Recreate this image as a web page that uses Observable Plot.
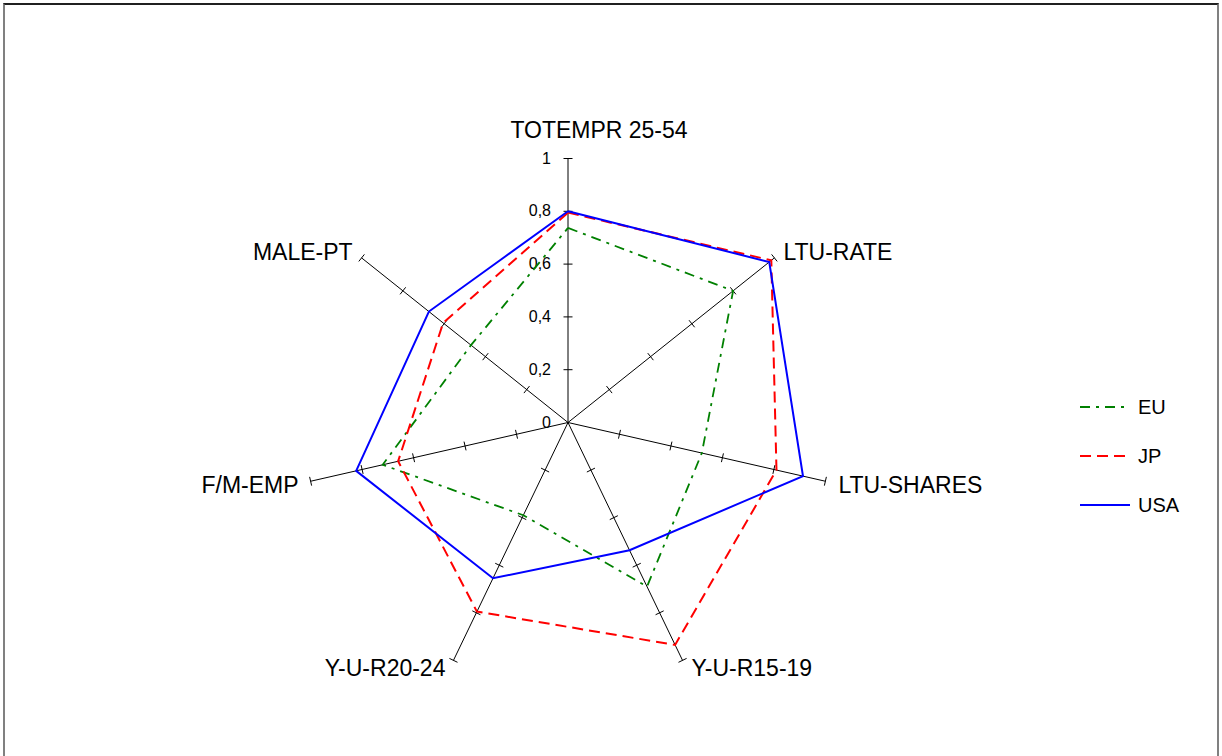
<!DOCTYPE html>
<html>
<head>
<meta charset="utf-8">
<script src="https://cdn.jsdelivr.net/npm/d3@7"></script>
<script src="https://cdn.jsdelivr.net/npm/@observablehq/plot@0.6"></script>
<style>
  html, body { margin: 0; padding: 0; background: #fff; overflow: hidden; }
  #wrap { position: relative; width: 1222px; height: 756px; overflow: hidden; font-family: "Liberation Sans", Arial, sans-serif; }
  #frame { position: absolute; left: 3px; top: 3px; width: 1216px; height: 800px; border: 2px solid #808080; border-top-color: #202020; box-sizing: border-box; pointer-events: none; }
  #legend { position: absolute; left: 1080px; top: 390px; }
  .item { position: absolute; left: 0; height: 34px; display: flex; align-items: center; white-space: nowrap; font-size: 20px; color: #000; }
  .item svg { margin-right: 6px; }
</style>
</head>
<body>
<div id="wrap"><div id="chart"></div><div id="legend"></div><div id="frame"></div></div>
<script>
// ---- data ----
const categories = ["TOTEMPR 25-54", "LTU-RATE", "LTU-SHARES", "Y-U-R15-19", "Y-U-R20-24", "F/M-EMP", "MALE-PT"];
const seriesNames = ["EU", "JP", "USA"];
const EU  = [0.737, 0.80, 0.52, 0.69, 0.39, 0.72, 0.47];
const JP  = [0.795, 0.985, 0.81, 0.935, 0.795, 0.66, 0.605];
const USA = [0.80, 0.975, 0.913, 0.537, 0.655, 0.823, 0.674];
const tickValues = [0, 0.2, 0.4, 0.6, 0.8, 1];
const tickLabels = ["0", "0,2", "0,4", "0,6", "0,8", "1"];

// ---- layout / styles ----
const W = 1222, H = 756, cx = 567.5, cy = 422, R = 264;
const styles = {
  EU:  {stroke: "#008000", strokeWidth: 1.8, dash: "10,6,3,6"},
  JP:  {stroke: "#ff0000", strokeWidth: 2, dash: "11,6"},
  USA: {stroke: "#0000ff", strokeWidth: 2, dash: null}
};
const labelLayout = [
  {anchor: "middle", dx: 31, dy: -28},
  {anchor: "start", dx: 9, dy: -5},
  {anchor: "start", dx: 13, dy: 4},
  {anchor: "start", dx: 9, dy: 8},
  {anchor: "end", dx: -8, dy: 8},
  {anchor: "end", dx: -12, dy: 4},
  {anchor: "end", dx: -9, dy: -5}
];
const n = categories.length;
const ang = i => i * 2 * Math.PI / n;
const px = (i, r) => Math.sin(ang(i)) * r;
const py = (i, r) => Math.cos(ang(i)) * r;
const tickHalf = 4.5 / R;

const values = {EU, JP, USA};
const seriesData = seriesNames.map(s => {
  const pts = categories.map((c, i) => ({s, i, x: px(i, values[s][i]), y: py(i, values[s][i])}));
  return pts.concat([pts[0]]);
});

const axes = categories.map((c, i) => ({i, x1: 0, y1: 0, x2: px(i, 1), y2: py(i, 1)}));
const ticks = [];
categories.forEach((c, i) => {
  tickValues.filter(v => v > 0).forEach(v => {
    const a = ang(i);
    const bx = px(i, v), by = py(i, v);
    // perpendicular direction
    const ux = Math.cos(a), uy = -Math.sin(a);
    ticks.push({x1: bx - ux * tickHalf, y1: by - uy * tickHalf, x2: bx + ux * tickHalf, y2: by + uy * tickHalf});
  });
});
const tickLabelData = tickValues.map((v, k) => ({x: 0, y: v, label: tickLabels[k]}));

const marks = [
  Plot.link(axes, {x1: "x1", y1: "y1", x2: "x2", y2: "y2", stroke: "#000", strokeWidth: 1}),
  Plot.link(ticks, {x1: "x1", y1: "y1", x2: "x2", y2: "y2", stroke: "#000", strokeWidth: 1}),
  Plot.text(tickLabelData, {x: "x", y: "y", text: "label", textAnchor: "end", dx: -17, fontSize: 16, fill: "#000", fontFamily: "Liberation Sans, Arial, sans-serif"})
];
seriesNames.forEach((s, k) => {
  const st = styles[s];
  marks.push(Plot.line(seriesData[k], {x: "x", y: "y", stroke: st.stroke, strokeWidth: st.strokeWidth,
    strokeDasharray: st.dash || undefined, strokeLinecap: "butt", strokeLinejoin: "miter", strokeMiterlimit: 4, curve: "linear"}));
});
categories.forEach((c, i) => {
  const L = labelLayout[i];
  marks.push(Plot.text([{x: px(i, 1), y: py(i, 1), label: c}], {x: "x", y: "y", text: "label",
    textAnchor: L.anchor, dx: L.dx, dy: L.dy, fontSize: 23, fill: "#000", fontFamily: "Liberation Sans, Arial, sans-serif"}));
});

const chart = Plot.plot({
  width: W, height: H,
  marginTop: 0, marginRight: 0, marginBottom: 0, marginLeft: 0,
  x: {domain: [-cx / R, (W - cx) / R], range: [0, W], axis: null},
  y: {domain: [-(H - cy) / R, cy / R], range: [H, 0], axis: null},
  style: {background: "#fff", overflow: "visible"},
  marks
});
document.getElementById("chart").appendChild(chart);

// legend
const legend = document.getElementById("legend");
seriesNames.forEach((s, k) => {
  const st = styles[s];
  const div = document.createElement("div");
  div.className = "item";
  div.style.top = (k * 49) + "px";
  div.innerHTML = `<svg width="52" height="6"><line x1="0" y1="3" x2="50" y2="3" stroke="${st.stroke}" stroke-width="${st.strokeWidth}" ${st.dash ? `stroke-dasharray="${st.dash}"` : ""}/></svg><span>${s}</span>`;
  legend.appendChild(div);
});
</script>
</body>
</html>
